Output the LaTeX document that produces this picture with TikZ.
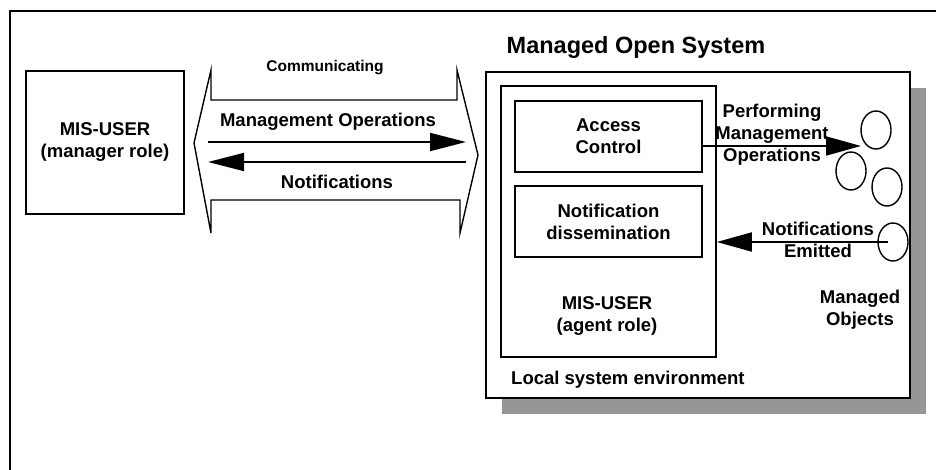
\documentclass[tikz,border=0pt]{standalone}
\usepackage{fontspec}
\setmainfont{Liberation Sans}
\usetikzlibrary{positioning,shapes.geometric,shadows,arrows.meta}
\definecolor{shadowgray}{RGB}{150,150,150}

\begin{document}
\begin{tikzpicture}[
    x=1pt, y=-1pt,
    font=\bfseries\fontsize{18.5}{22}\selectfont,
    % Node styles
    box/.style={draw, line width=1.6pt, inner sep=0pt, align=center, fill=white},
    obj/.style={draw, ellipse, line width=1.4pt, minimum width=30pt, minimum height=38pt, inner sep=0pt},
    lbl/.style={align=center, inner sep=0pt},
    bigarrow/.style={line width=1.8pt, -{Triangle[length=35pt,width=19pt]}},
]
    \useasboundingbox (0,0) rectangle (936,470);

    % frame
    \draw[line width=1.8pt] (10,470) -- (10,11) -- (936,11);

    % Manager side
    \node[box, minimum width=158pt, minimum height=143pt] (manager) at (105,142.5) {MIS-USER\\(manager role)};

    % Communicating channel
    \coordinate (chanL) at (194,143);
    \coordinate (chanR) at (478,155);
    \draw[line width=1.4pt, line join=miter]
        (211,100) -- (457,100) -- (457,70) -- (chanR) -- (460,233) -- (460,200)
        -- (211,200) -- (211,233) -- (chanL) -- (211,70) -- cycle;
    \node[lbl, font=\bfseries\fontsize{15.5}{18}\selectfont] (comm) at (325,68) {Communicating};

    \coordinate (opsL) at (208,142);
    \coordinate (opsR) at (466,142);
    \coordinate (notL) at (208,162);
    \coordinate (notR) at (466,162);
    \draw[line width=1.8pt, -{Triangle[length=36pt,width=18pt]}] (opsL) -- (opsR);
    \draw[line width=1.8pt, -{Triangle[length=36pt,width=18pt]}] (notR) -- (notL);
    \node[lbl] (opslbl) at (328,122) {Management Operations};
    \node[lbl] (notlbl) at (337,182) {Notifications};

    % Managed open system
    \node[lbl, font=\bfseries\fontsize{23.5}{28}\selectfont] (title) at (636,47) {Managed Open System};
    \node[box, minimum width=424pt, minimum height=326pt,
          drop shadow={shadow xshift=16pt, shadow yshift=-16pt, fill=shadowgray, opacity=1}]
          (system) at (698,235) {};
    \node[box, minimum width=215pt, minimum height=271pt] (agent) at (608.5,221.5) {};
    \node[box, minimum width=187pt, minimum height=71pt] (access) at (608.5,136.5) {Access\\Control};
    \node[box, minimum width=187pt, minimum height=71pt] (dissem) at (608.5,221.5) {Notification\\dissemination};
    \node[lbl] (agentlbl) at (607,316) {MIS-USER\\(agent role)};
    \node[lbl, anchor=west] (local) at (511,380) {Local system environment};

    % Managed objects
    \node[obj] (obj1) at (876,130) {};
    \node[obj] (obj2) at (851,171) {};
    \node[obj] (obj3) at (887,187) {};
    \node[obj] (obj4) at (893,242) {};
    \node[lbl] (molbl) at (860,310) {Managed\\Objects};

    % Operations and notifications
    \coordinate (perfEnd) at (861,146);
    \draw[bigarrow] (access.east |- perfEnd) -- (perfEnd);
    \node[lbl] (perflbl) at (772,135) {Performing\\Management\\Operations};
    \draw[bigarrow] ([xshift=-5pt]obj4.center) -- (agent.east |- obj4.center);
    \node[lbl] (emitlbl) at (818,240) {Notifications\\Emitted};

\end{tikzpicture}
\end{document}
